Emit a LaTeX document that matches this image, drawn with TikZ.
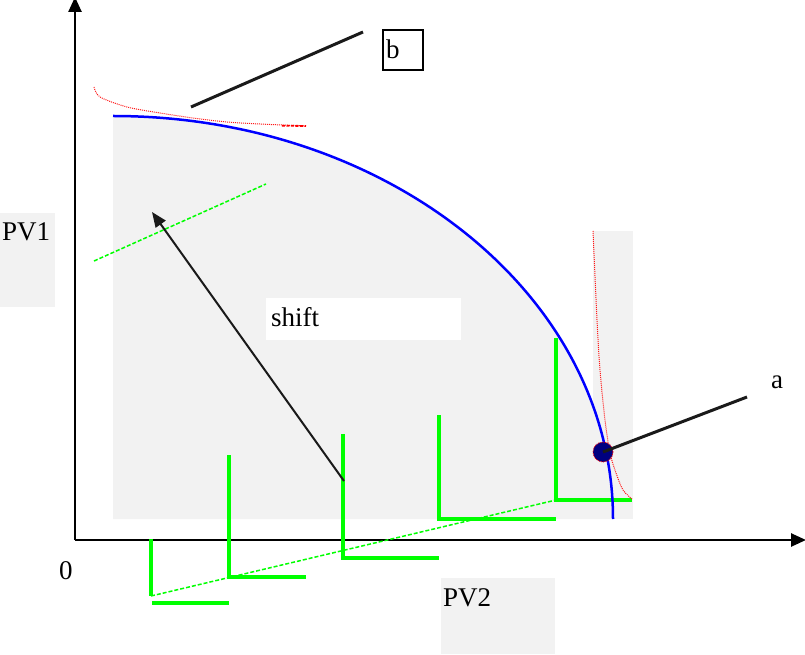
\documentclass[tikz,border=0pt]{standalone}
\usepackage{fontspec}
\setmainfont{Liberation Serif}
\usetikzlibrary{arrows.meta}
\definecolor{greyfill}{HTML}{F2F2F2}
\definecolor{lime}{HTML}{00FF00}
\definecolor{navyfill}{HTML}{000080}
\definecolor{ink}{HTML}{1A1A1A}
\begin{document}
\begin{tikzpicture}[x=1pt,y=1pt,
  lbl/.style={anchor=base west,inner sep=0pt,font=\fontsize{27}{30}\selectfont},
  axisline/.style={black,line width=2.5pt,-{Triangle[length=15pt,width=13pt]}},
  lshape/.style={lime,line width=3.8pt},
  gdash/.style={lime,line width=1.5pt,dash pattern=on 4pt off 2pt},
  rdot/.style={red!90,line width=1pt,densely dotted},
  leadline/.style={ink,line width=3pt},
  shiftarrow/.style={ink,line width=2pt,-{Triangle[length=15pt,width=12pt]}}]
\useasboundingbox (0,0) rectangle (805,654);
% grey regions
\fill[greyfill] (113,135) -- (113,538) arc[start angle=90,end angle=0,x radius=500,y radius=403] -- cycle;
\fill[greyfill] (593,135) rectangle (633,423);
\fill[greyfill] (0,347) rectangle (55,441);
\fill[greyfill] (441,0) rectangle (555,76);
\fill[white] (266,314) rectangle (461,356);
% axes
\coordinate (O) at (75,114);
\coordinate (ytop) at (75,657);
\coordinate (xend) at (806,114);
\draw[axisline] (O) -- (ytop);
\draw[axisline] (O) -- (xend);
% green dashed lines
\coordinate (g1a) at (94,393); \coordinate (g1b) at (266,470);
\draw[gdash] (g1a) -- (g1b);
\coordinate (g2a) at (151,58); \coordinate (g2b) at (556,154);
\draw[gdash] (g2a) -- (g2b);
% green L shapes
\draw[lshape] (151,115) -- (151,58);
\draw[lshape] (152,51) -- (229,51);
\draw[lshape] (229,199) -- (229,77) -- (306,77);
\draw[lshape] (343,220) -- (343,96) -- (439,96);
\draw[lshape] (439,239) -- (439,135) -- (556,135);
\draw[lshape] (556,316) -- (556,154) -- (632,154);
% frontier
\draw[blue,line width=2.5pt] (113,538) arc[start angle=90,end angle=0,x radius=500,y radius=403];
% red indifference curves
\draw[rdot] plot[smooth] coordinates {(94,567) (100,557) (127,547) (160,541) (193,536) (227,532) (260,530) (306,528)};
\draw[red,line width=1.8pt,dash pattern=on 3pt off 1.5pt] (282,528.3) -- (306,528);
\draw[rdot] plot[smooth] coordinates {(593,423) (597,334) (600,284) (605,234) (610,201) (616,181) (623,164) (632,155)};
% shift arrow
\coordinate (arrS) at (344,173); \coordinate (arrE) at (152,442);
\draw[shiftarrow] (arrS) -- (arrE);
% point a
\node[circle,fill=navyfill,draw=red,densely dotted,line width=0.8pt,minimum size=20pt,inner sep=0pt] (pa) at (603,202) {};
\coordinate (aend) at (747,257);
\draw[leadline] (pa.center) -- (aend);
% b
\coordinate (bstart) at (191,547); \coordinate (bend) at (363,622);
\draw[leadline] (bstart) -- (bend);
\node[draw=black,line width=1.6pt,minimum width=40pt,minimum height=40pt,inner sep=0pt,anchor=south west] (bbox) at (382,583) {};
% labels
\node[lbl] (lb) at (386,595) {b};
\node[lbl] (la) at (771,266) {a};
\node[lbl] (lshift) at (271,327) {shift};
\node[lbl] (lpv1) at (2,413) {PV1};
\node[lbl] (lpv2) at (443,48) {PV2};
\node[lbl] (lzero) at (59,75) {0};
\end{tikzpicture}
\end{document}
